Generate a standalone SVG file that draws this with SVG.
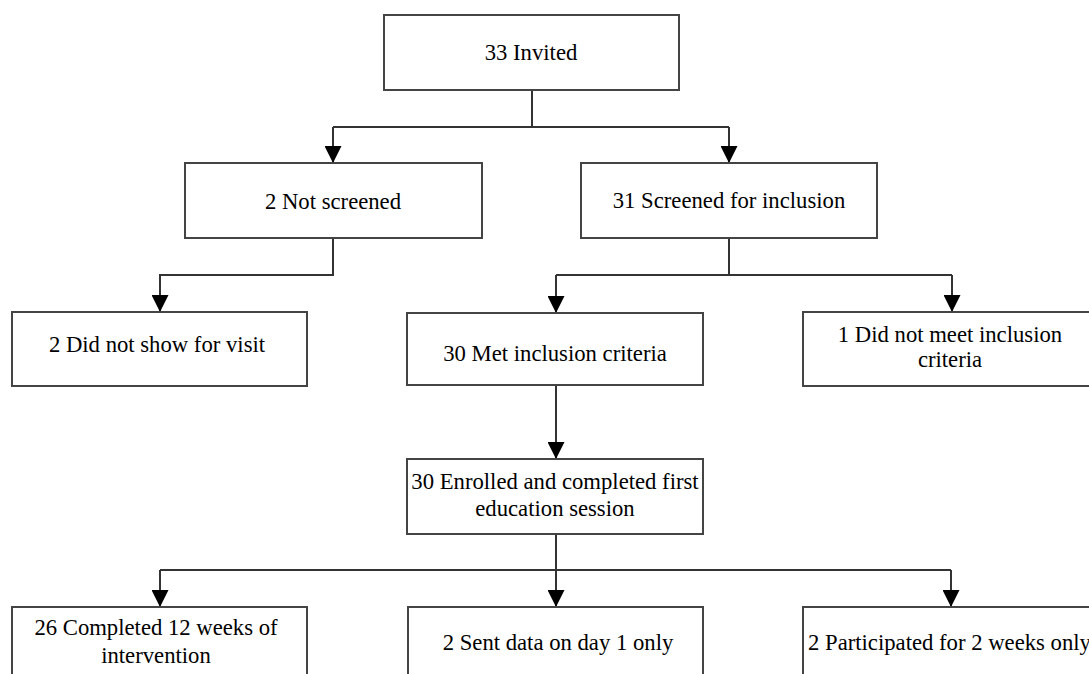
<svg xmlns="http://www.w3.org/2000/svg" width="1089" height="674" viewBox="0 0 1089 674">
<defs>
<style>
.box{fill:#fff;stroke:#444;stroke-width:2}
.t{font-family:'Liberation Serif',serif;font-size:22.7px;fill:#000;text-anchor:middle}
.c{fill:none;stroke:#333;stroke-width:2}
</style>
<marker id="ah" markerUnits="userSpaceOnUse" markerWidth="17" markerHeight="17" refX="16" refY="8" orient="auto" viewBox="0 0 16 16">
<path d="M0,0 L16,8 L0,16 Z" fill="#000"/>
</marker>
</defs>
<rect width="1089" height="674" fill="#fff"/>
<g id="connectors">
<path class="c" d="M532,90 V127"/>
<path class="c" d="M333,127 H729"/>
<path class="c" d="M333,127 V163" marker-end="url(#ah)"/>
<path class="c" d="M729,127 V163" marker-end="url(#ah)"/>
<path class="c" d="M333,238 V275 H160 V312" marker-end="url(#ah)"/>
<path class="c" d="M729,238 V275"/>
<path class="c" d="M556,275 H952"/>
<path class="c" d="M556,275 V313" marker-end="url(#ah)"/>
<path class="c" d="M952,275 V312" marker-end="url(#ah)"/>
<path class="c" d="M556,385 V459" marker-end="url(#ah)"/>
<path class="c" d="M556,534 V607" marker-end="url(#ah)"/>
<path class="c" d="M160,570 H951"/>
<path class="c" d="M160,570 V607" marker-end="url(#ah)"/>
<path class="c" d="M951,570 V607" marker-end="url(#ah)"/>
</g>
<g id="n1"><rect class="box" x="384" y="15" width="295" height="75"/><text class="t" x="531" y="60">33 Invited</text></g>
<g id="n2"><rect class="box" x="185" y="163" width="297" height="75"/><text class="t" x="333" y="209">2 Not screened</text></g>
<g id="n3"><rect class="box" x="581" y="163" width="296" height="75"/><text class="t" x="729" y="208">31 Screened for inclusion</text></g>
<g id="n4"><rect class="box" x="12" y="312" width="295" height="74"/><text class="t" x="157" y="352">2 Did not show for visit</text></g>
<g id="n5"><rect class="box" x="407" y="313" width="296" height="72"/><text class="t" x="555" y="361">30 Met inclusion criteria</text></g>
<g id="n6"><rect class="box" x="803" y="312" width="300" height="74"/><text class="t" x="950" y="342">1 Did not meet inclusion</text><text class="t" x="950" y="367">criteria</text></g>
<g id="n7"><rect class="box" x="407" y="459" width="296" height="75"/><text class="t" x="555" y="489">30 Enrolled and completed first</text><text class="t" x="555" y="516">education session</text></g>
<g id="n8"><rect class="box" x="12" y="607" width="295" height="90"/><text class="t" x="156" y="635">26 Completed 12 weeks of</text><text class="t" x="156" y="663">intervention</text></g>
<g id="n9"><rect class="box" x="408" y="607" width="295" height="90"/><text class="t" x="558" y="650">2 Sent data on day 1 only</text></g>
<g id="n10"><rect class="box" x="803" y="607" width="300" height="90"/><text class="t" x="808" y="650" style="text-anchor:start">2 Participated for 2 weeks only</text></g>
</svg>
